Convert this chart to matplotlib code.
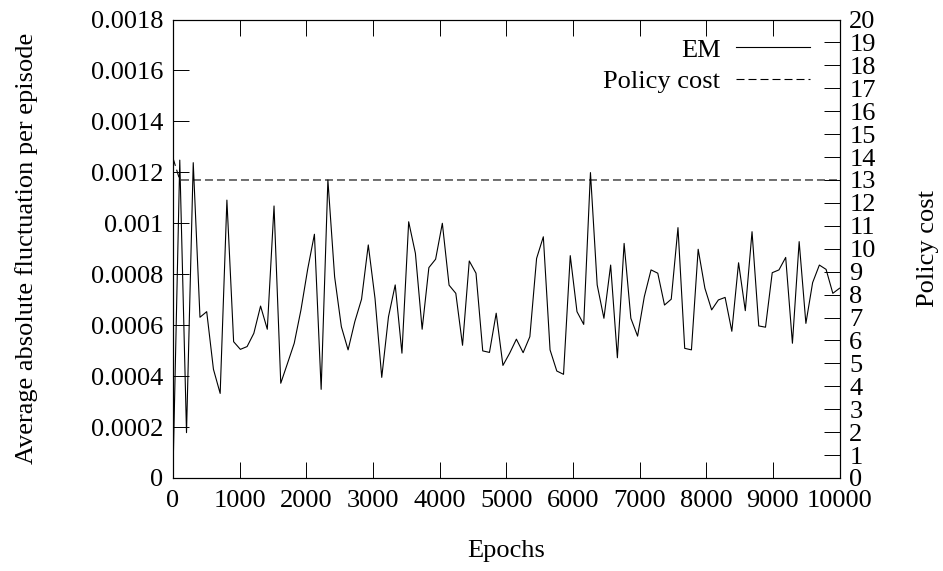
import numpy as np
import matplotlib
matplotlib.use("Agg")
import matplotlib.pyplot as plt
from matplotlib.ticker import FuncFormatter

plt.rcParams['font.family'] = ['Liberation Serif', 'DejaVu Serif']

# 100 evenly spaced samples over the run
epochs = np.linspace(0, 10000, 100)

em = [0.00003, 0.001248, 0.000178, 0.001238, 0.000631, 0.000653, 0.000427, 0.000332, 0.001091, 0.000535,
      0.000505, 0.000516, 0.000568, 0.000675, 0.000584, 0.001068, 0.000372, 0.00045, 0.000529, 0.00066,
      0.00082, 0.000957, 0.000348, 0.00117, 0.00079, 0.000594, 0.000503, 0.000614, 0.000702, 0.000915,
      0.000705, 0.000395, 0.000633, 0.000758, 0.00049, 0.001006, 0.000882, 0.000584, 0.000826, 0.000859,
      0.001, 0.000757, 0.000725, 0.000521, 0.000852, 0.000804, 0.000499, 0.000493, 0.000647, 0.000442,
      0.00049, 0.000545, 0.000492, 0.000555, 0.000862, 0.000947, 0.000503, 0.00042, 0.000407, 0.000873,
      0.000653, 0.000603, 0.001199, 0.000758, 0.000627, 0.000836, 0.000472, 0.000921, 0.000627, 0.000557,
      0.000712, 0.000817, 0.000804, 0.000679, 0.000702, 0.000983, 0.000509, 0.000503, 0.000898, 0.000745,
      0.00066, 0.000699, 0.000709, 0.000576, 0.000845, 0.000657, 0.000967, 0.000597, 0.000592, 0.000806,
      0.000817, 0.000866, 0.000529, 0.000928, 0.000607, 0.000767, 0.000836, 0.000819, 0.000725, 0.000745]

policy_cost = [13.95] + [13.0] * 99

x_ticks = [0, 1000, 2000, 3000, 4000, 5000, 6000, 7000, 8000, 9000, 10000]
y_ticks = [0, 0.0002, 0.0004, 0.0006, 0.0008, 0.001, 0.0012, 0.0014, 0.0016, 0.0018]
y2_ticks = list(range(0, 21))

fs = 19
tick_len = 11.5
lw = 0.8

fig = plt.figure(figsize=(9.43, 5.71), dpi=100)
ax = fig.add_axes([0.1835, 0.1629, 0.8903 - 0.1835, 0.9658 - 0.1629])
ax2 = ax.twinx()

l1, = ax.plot(epochs, em, color='black', lw=lw, label='EM')
l2, = ax2.plot(epochs, policy_cost, color='black', lw=lw, ls=(0, (7.2, 3.6)), label='Policy cost')

ax.set_xlim(0, 10000)
ax.set_ylim(0, 0.0018)
ax2.set_ylim(0, 20)

ax.set_xticks(x_ticks)
ax.set_yticks(y_ticks)
ax2.set_yticks(y2_ticks)
ax.yaxis.set_major_formatter(FuncFormatter(lambda v, p: '%g' % v))

ax.tick_params(axis='x', direction='in', length=tick_len, width=0.7, top=True, labelsize=fs, pad=9)
ax.tick_params(axis='y', direction='in', length=tick_len, width=0.7, left=True, right=False, labelsize=fs, pad=7)
ax2.tick_params(axis='y', direction='in', length=tick_len, width=0.7, labelsize=fs, pad=7)

for a in (ax, ax2):
    for s in a.spines.values():
        s.set_linewidth(0.8)

ax.set_xlabel('Epochs', fontsize=fs, labelpad=20)
ax.set_ylabel('Average absolute fluctuation per episode', fontsize=fs, labelpad=38)
ax2.set_ylabel('Policy cost', fontsize=fs, labelpad=30)

ax2.legend([l1, l2], ['EM', 'Policy cost'], loc='upper right', frameon=False, markerfirst=False,
           fontsize=fs, handlelength=2.8, handletextpad=0.6, labelspacing=0.31,
           borderaxespad=0.6, bbox_to_anchor=(0.9955, 1.017))

fig.savefig('out.png', dpi=100)
